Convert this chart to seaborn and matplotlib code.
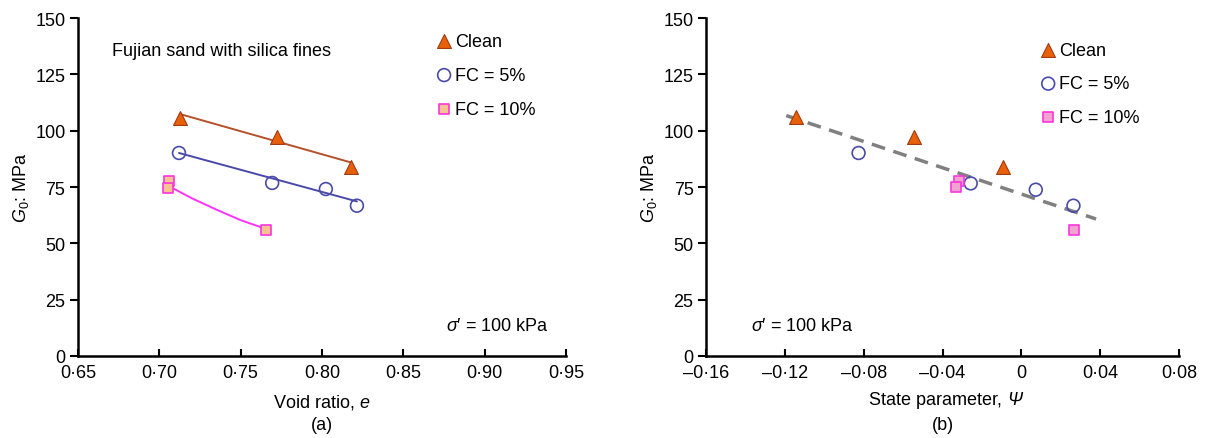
import numpy as np
import pandas as pd
import matplotlib
matplotlib.use("Agg")
import matplotlib.pyplot as plt
import seaborn as sns

# ------------------------------------------------------------------
# data
# ------------------------------------------------------------------
# (a) G0 vs void ratio
e_clean = [0.7126, 0.7724, 0.8178]
g_clean = [105.7, 97.1, 83.8]
e_fc5 = [0.7121, 0.7694, 0.8024, 0.8215]
g_fc5 = [90.1, 76.8, 74.1, 66.7]
e_fc10 = [0.7060, 0.7054, 0.7659]
g_fc10 = [77.8, 74.5, 56.0]

# trend lines in (a)
fit_e_clean = [0.7126, 0.8178]
fit_g_clean = [107.4, 85.9]
fit_e_fc5 = [0.7121, 0.8215]
fit_g_fc5 = [90.1, 68.6]
fit_e_fc10 = [0.7054, 0.720, 0.735, 0.750, 0.7659]
fit_g_fc10 = [75.6, 70.0, 65.0, 60.3, 56.3]

# (b) G0 vs state parameter
psi_clean = [-0.1142, -0.0547, -0.0091]
psi_fc5 = [-0.0826, -0.0257, 0.0073, 0.0264]
psi_fc10 = [-0.0316, -0.0331, 0.0269]
g_b_clean = [106.0, 97.1, 84.0]
g_b_fc5 = [90.1, 76.6, 73.8, 66.7]
g_b_fc10 = [77.5, 74.8, 56.0]

fit_psi = [-0.1193, 0.0379]
fit_g_psi = [106.7, 60.8]

xticks_a = [0.65, 0.70, 0.75, 0.80, 0.85, 0.90, 0.95]
xlabels_a = ["0·65", "0·70", "0·75", "0·80", "0·85", "0·90", "0·95"]
xticks_b = [-0.16, -0.12, -0.08, -0.04, 0.0, 0.04, 0.08]
xlabels_b = ["\u20130·16", "\u20130·12", "\u20130·08", "\u20130·04", "0", "0·04", "0·08"]
yticks = [0, 25, 50, 75, 100, 125, 150]

# ------------------------------------------------------------------
# style
# ------------------------------------------------------------------
sns.set_style("ticks")
plt.rcParams["font.family"] = ["Liberation Sans", "DejaVu Sans"]
plt.rcParams["mathtext.fontset"] = "custom"
plt.rcParams["mathtext.it"] = "Liberation Sans:italic"
plt.rcParams["mathtext.rm"] = "Liberation Sans"
for k in ["text.color", "axes.labelcolor", "xtick.color", "ytick.color", "axes.edgecolor"]:
    plt.rcParams[k] = "black"

C_TRI = "#e8600a"
C_TRI_EDGE = "#a33a10"
C_LINE_CLEAN = "#b5502a"
C_CIRC = "#4a4aaa"
C_SQ_EDGE = "#ff33dd"
C_SQ_FILL_A = "#f8c293"
C_SQ_FILL_B = "#f2a2cf"
C_LINE_FC10 = "#ff33ff"
FS = 13

fig = plt.figure(figsize=(12.3, 4.39), dpi=100)
ax_a = fig.add_axes([0.0634, 0.1868, 0.3967, 0.7699])
ax_b = fig.add_axes([0.574, 0.1868, 0.3846, 0.7699])


def points(ax, x1, y1, x2, y2, x3, y3, sq_fill):
    sns.scatterplot(x=x1, y=y1, marker="^", s=100, color=C_TRI, edgecolor=C_TRI_EDGE,
                    linewidth=0.8, label="Clean", ax=ax, zorder=3)
    sns.scatterplot(x=x2, y=y2, marker="o", s=85, facecolor="none", edgecolor=C_CIRC,
                    linewidth=1.2, label="FC = 5%", ax=ax, zorder=3)
    sns.scatterplot(x=x3, y=y3, marker="s", s=48, color=sq_fill, edgecolor=C_SQ_EDGE,
                    linewidth=1.2, label="FC = 10%", ax=ax, zorder=3)


def frame(ax, ticks, labels, xlim):
    ax.set_xlim(*xlim)
    ax.set_ylim(0, 150)
    ax.set_xticks(ticks)
    ax.set_xticklabels(labels, fontsize=FS)
    ax.set_yticks(yticks)
    ax.tick_params(axis="y", direction="out", length=6, width=1.5, labelsize=FS, pad=3)
    ax.tick_params(axis="x", direction="in", length=5, width=1.5, labelsize=FS, pad=6)
    for s in ["left", "bottom"]:
        ax.spines[s].set_linewidth(1.8)
    sns.despine(ax=ax)
    ax.set_ylabel(r"$G_0$: MPa", fontsize=FS, labelpad=3)


def legend(ax, x, y, spacing):
    ax.legend(loc="upper left", bbox_to_anchor=(x, y), frameon=False, fontsize=FS,
              handlelength=1.0, handletextpad=0.1, labelspacing=spacing, borderaxespad=0)


# (a)
sns.lineplot(x=fit_e_clean, y=fit_g_clean, color=C_LINE_CLEAN, lw=1.4, ax=ax_a, sort=False)
sns.lineplot(x=fit_e_fc5, y=fit_g_fc5, color=C_CIRC, lw=1.4, ax=ax_a, sort=False)
sns.lineplot(x=fit_e_fc10, y=fit_g_fc10, color=C_LINE_FC10, lw=1.4, ax=ax_a, sort=False)
points(ax_a, e_clean, g_clean, e_fc5, g_fc5, e_fc10, g_fc10, C_SQ_FILL_A)
frame(ax_a, xticks_a, xlabels_a, (0.65, 0.95))
ax_a.set_xlabel("Void ratio, $e$", fontsize=FS, labelpad=8)
legend(ax_a, 0.717, 0.978, 0.95)
ax_a.text(0.07, 0.905, "Fujian sand with silica fines", transform=ax_a.transAxes,
          fontsize=FS, va="center")
ax_a.text(0.755, 0.09, r"$\sigma$′ = 100 kPa", transform=ax_a.transAxes,
          fontsize=FS, va="center")
fig.text(0.262, 0.02, "(a)", fontsize=FS, ha="center")

# (b)
sns.lineplot(x=fit_psi, y=fit_g_psi, color="#808080", lw=2.5, ax=ax_b, sort=False,
             dashes=False, linestyle=(0, (4, 2.5)))
points(ax_b, psi_clean, g_b_clean, psi_fc5, g_b_fc5, psi_fc10, g_b_fc10, C_SQ_FILL_B)
frame(ax_b, xticks_b, xlabels_b, (-0.16, 0.08))
ax_b.set_xlabel("State parameter,", fontsize=FS, labelpad=8)
ax_b.xaxis.set_label_coords(0.485, -0.105)
ax_b.xaxis.label.set_va("top")
ax_b.annotate("Ψ", xy=(1, 0), xycoords=ax_b.xaxis.label, xytext=(3.5, 0),
              textcoords="offset points", fontsize=FS, fontstyle="italic",
              ha="left", va="bottom")
legend(ax_b, 0.689, 0.95, 0.9)
ax_b.text(0.095, 0.09, r"$\sigma$′ = 100 kPa", transform=ax_b.transAxes,
          fontsize=FS, va="center")
fig.text(0.767, 0.02, "(b)", fontsize=FS, ha="center")

fig.savefig("out.png", dpi=100)
